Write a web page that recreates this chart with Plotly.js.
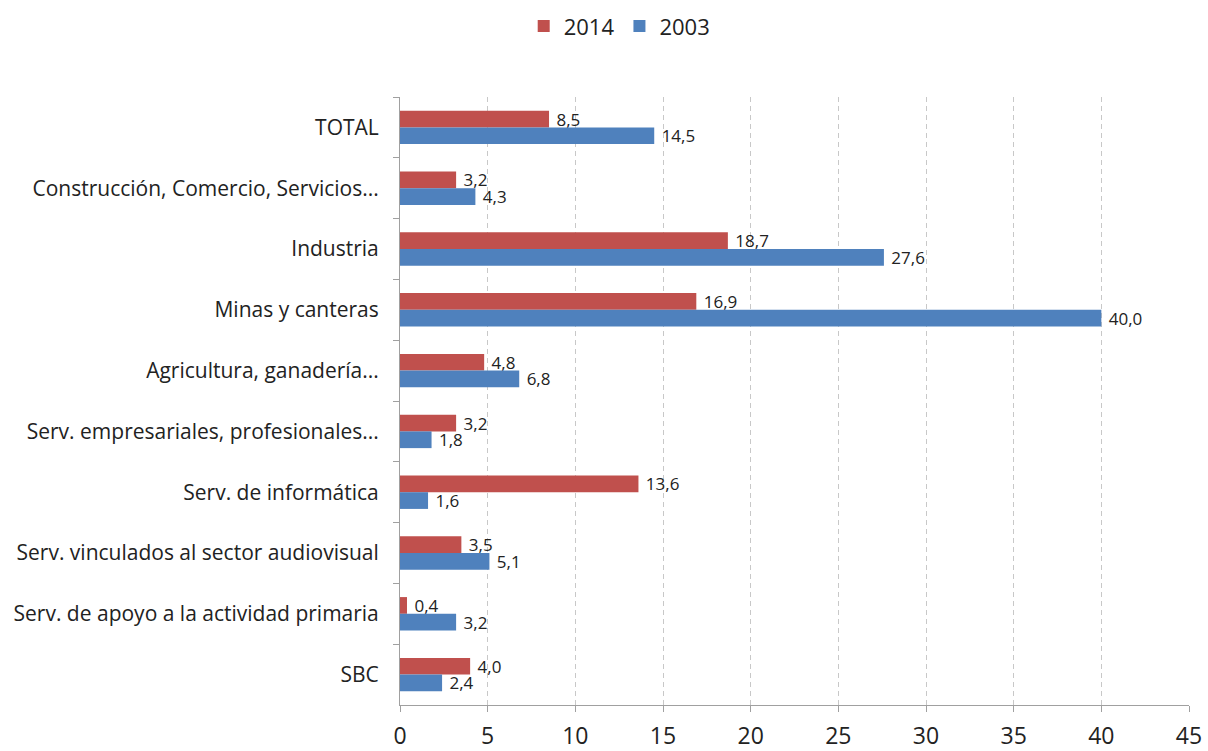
<!DOCTYPE html>
<html><head><meta charset="utf-8">
<script src="https://cdn.plot.ly/plotly-3.0.1.min.js"></script>
<style>body{margin:0;background:#fff}#chart{width:1208px;height:751px}</style>
</head><body><div id="chart"></div>
<script>
const categories = ["TOTAL","Construcción, Comercio, Servicios...","Industria","Minas y canteras","Agricultura, ganadería...","Serv. empresariales, profesionales...","Serv. de informática","Serv. vinculados al sector audiovisual","Serv. de apoyo a la actividad primaria","SBC"];
const values2014 = [8.5,3.2,18.7,16.9,4.8,3.2,13.6,3.5,0.4,4.0];
const values2003 = [14.5,4.3,27.6,40.0,6.8,1.8,1.6,5.1,3.2,2.4];
const xTicks = [0,5,10,15,20,25,30,35,40,45];

const font = "Open Sans, DejaVu Sans, sans-serif";
const common = {type:'bar', orientation:'h', y:categories, texttemplate:' %{x:.1f}', textposition:'outside', constraintext:'none', cliponaxis:false, textfont:{size:17,color:'#222',family:font}, hoverinfo:'x+y'};
const data = [
  Object.assign({}, common, {name:'2014', x:values2014, marker:{color:'#C0504D'}}),
  Object.assign({}, common, {name:'2003', x:values2003, marker:{color:'#4F81BD'}})
];
const layout = {
  width:1208, height:751,
  margin:{l:400, r:19, t:97, b:46},
  separators:',.',
  barmode:'group', bargap:0.45, bargroupgap:0,
  font:{family:font, size:15, color:'#222'},
  paper_bgcolor:'#fff', plot_bgcolor:'#fff',
  showlegend:true,
  legend:{orientation:'h', xref:'container', yref:'container', x:0.513, y:0.993, xanchor:'center', yanchor:'top', font:{size:22, color:'#222'}, itemwidth:20},
  xaxis:{range:[0,45], tickvals:xTicks, ticktext:xTicks.map(String), showgrid:true, gridcolor:'#C8C8C8', griddash:'5px,4px', gridwidth:1, showline:true, linecolor:'#A0A0A0', linewidth:1, ticks:'outside', ticklen:6, tickcolor:'#A0A0A0', tickfont:{size:23, color:'#222'}, ticklabelstandoff:4, zeroline:false, fixedrange:true},
  yaxis:{type:'category', autorange:'reversed', showline:true, linecolor:'#A0A0A0', linewidth:1, ticks:'outside', tickson:'boundaries', ticklen:6, tickcolor:'#A0A0A0', tickfont:{size:21, color:'#222'}, ticklabelstandoff:16, showgrid:false, fixedrange:true}
};
Plotly.newPlot('chart', data, layout, {displayModeBar:false, staticPlot:true});
</script></body></html>
